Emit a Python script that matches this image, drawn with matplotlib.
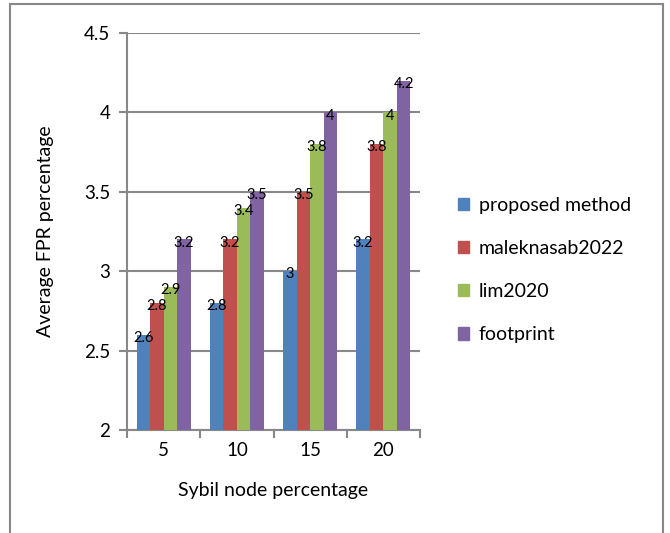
import numpy as np
import matplotlib.pyplot as plt
from matplotlib.lines import Line2D
from matplotlib.patches import Patch

plt.rcParams['font.family'] = ['Lato', 'DejaVu Sans']

categorias = ['5', '10', '15', '20']
series = ['proposed method', 'maleknasab2022', 'lim2020', 'footprint']
proposed = [2.6, 2.8, 3.0, 3.2]
maleknasab = [2.8, 3.2, 3.5, 3.8]
lim = [2.9, 3.4, 3.8, 4.0]
footprint = [3.2, 3.5, 4.0, 4.2]
valores = [proposed, maleknasab, lim, footprint]
colores = ['#4F81BD', '#C0504D', '#9BBB59', '#8064A2']
etiquetas = [['2.6', '2.8', '3', '3.2'], ['2.8', '3.2', '3.5', '3.8'],
             ['2.9', '3.4', '3.8', '4'], ['3.2', '3.5', '4', '4.2']]

fig = plt.figure(figsize=(6.7, 5.33), dpi=100)
ax = fig.add_axes([127/670, 1-430/533, 293/670, 397/533])

x = np.arange(len(categorias))
ancho = 0.185
gris = '#888888'
for i, vals in enumerate(valores):
    pos = x + (i - 1.5) * ancho
    ax.bar(pos, np.array(vals) - 2, width=ancho, bottom=2, color=colores[i],
           zorder=3, label=series[i])
    for p, v, t in zip(pos, vals, etiquetas[i]):
        ax.text(p, v - 0.02, t, ha='center', va='center', fontsize=10.5, zorder=4)

ax.set_xlim(-0.5, 3.5)
ax.set_ylim(2, 4.5)
ax.set_yticks([2, 2.5, 3, 3.5, 4, 4.5])
ax.set_yticklabels(['2', '2.5', '3', '3.5', '4', '4.5'], fontsize=13.5)
ax.yaxis.grid(True, color=gris, linewidth=1.5, zorder=0)
ax.set_xticks(np.arange(-0.5, 4, 1))
ax.set_xticklabels([])
ax.set_xticks(x, minor=True)
ax.set_xticklabels(categorias, minor=True, fontsize=13.5)
ax.tick_params(axis='x', which='minor', length=0, pad=9)
ax.tick_params(axis='x', which='major', length=6, color=gris, width=1.5)
ax.tick_params(axis='y', length=6, color=gris, width=1.5, pad=6)
for s in ['top', 'right']:
    ax.spines[s].set_visible(False)
for s in ['left', 'bottom']:
    ax.spines[s].set_color(gris)
    ax.spines[s].set_linewidth(1.5)

ax.set_xlabel('Sybil node percentage', fontsize=14, labelpad=16)
ax.set_ylabel('Average FPR percentage', fontsize=14, labelpad=22)

handles = [Patch(color=c) for c in colores]
fig.legend(handles, series, loc='center left', bbox_to_anchor=(440/670, 1-270/533),
           frameon=False, fontsize=14, handlelength=0.6, handleheight=0.6,
           handletextpad=0.5, labelspacing=1.35)

# borde exterior
fig.add_artist(Line2D([10/670, 10/670], [0, 1-4/533], color=gris, lw=1.5))
fig.add_artist(Line2D([10/670, 663/670], [1-4/533, 1-4/533], color=gris, lw=1.5))
fig.add_artist(Line2D([663/670, 663/670], [0, 1-4/533], color=gris, lw=1.5))

fig.savefig('out.png', dpi=100)
